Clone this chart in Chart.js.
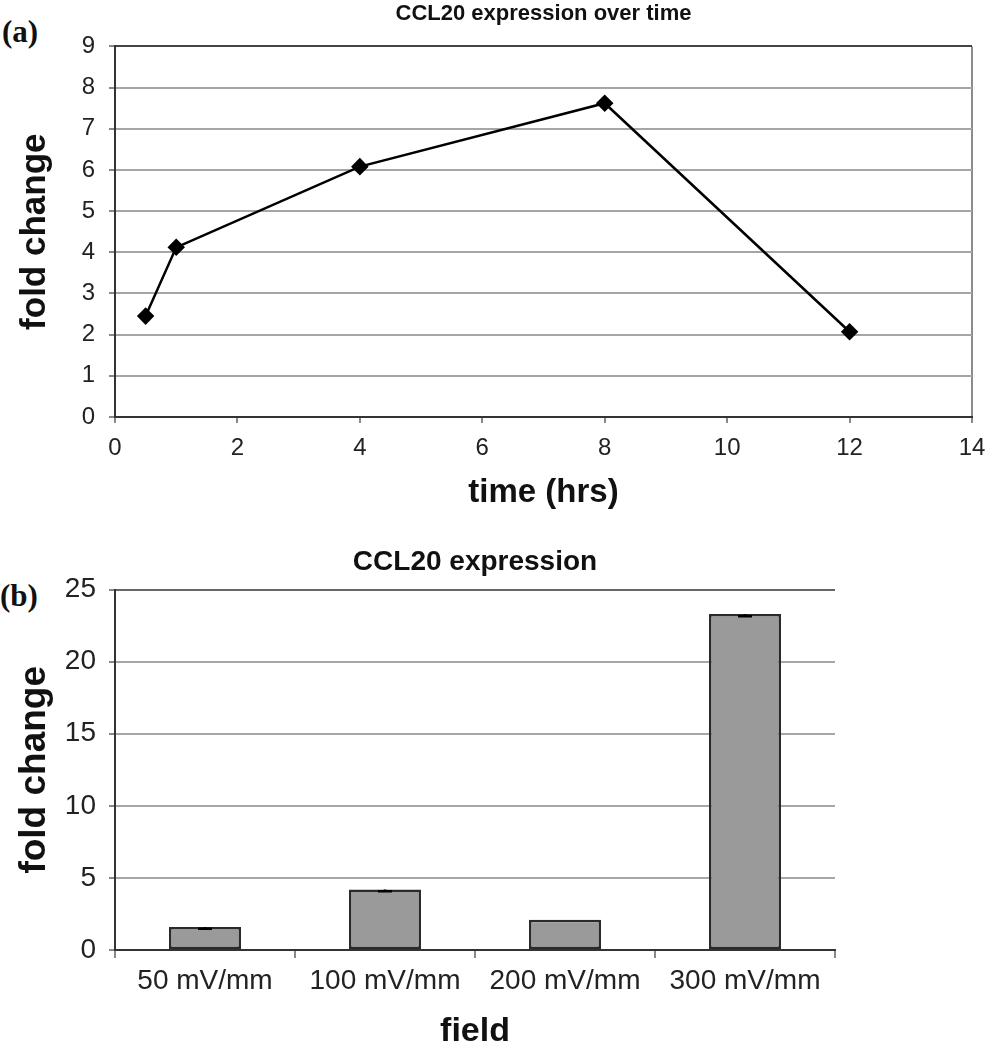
<!DOCTYPE html>
<html>
<head>
<meta charset="utf-8">
<script src="https://cdn.jsdelivr.net/npm/chart.js@4"></script>
<style>
  body { margin: 0; background: #fff; }
  .panel { position: absolute; left: 0; width: 987px; height: 525px; }
  .tag { position: absolute; font-family: "Liberation Serif", serif; font-weight: bold; font-size: 31px; color: #111; }
</style>
</head>
<body>
<div class="tag" style="left:2px; top:14px;">(a)</div>
<div class="tag" style="left:0px; top:578px;">(b)</div>
<div class="panel" style="top:0px;"><canvas id="lineChart"></canvas></div>
<div class="panel" style="top:525px;"><canvas id="barChart"></canvas></div>
<script>
// panel (a) - fold change over time
const times = [0.5, 1, 4, 8, 12];
const foldTime = [2.45, 4.12, 6.08, 7.62, 2.07];

// panel (b) - fold change per field strength
const fields = ['50 mV/mm', '100 mV/mm', '200 mV/mm', '300 mV/mm'];
const foldField = [1.6, 4.2, 2.1, 23.3];
const foldErr = [0.12, 0.12, 0, 0.15];

const sans = '"Liberation Sans", Arial, sans-serif';
Chart.defaults.font.family = sans;
Chart.defaults.color = '#222';
Chart.defaults.animation = false;
Chart.defaults.responsive = true;
Chart.defaults.maintainAspectRatio = false;

const points = times.map(function(t, i) { return {x: t, y: foldTime[i]}; });

new Chart(document.getElementById('lineChart'), {
  type: 'line',
  data: {
    datasets: [{
      data: points,
      borderColor: '#000',
      borderWidth: 2.5,
      pointStyle: 'rectRot',
      pointRadius: 7,
      pointBackgroundColor: '#000',
      pointBorderColor: '#000',
      tension: 0
    }]
  },
  options: {
    layout: { padding: { left: 0, right: 15, top: 0, bottom: 0 } },
    plugins: {
      legend: { display: false },
      tooltip: { enabled: false },
      title: {
        display: true,
        fullSize: false,
        text: 'CCL20 expression over time',
        color: '#111',
        font: { size: 22, weight: 'bold' },
        padding: { top: 1, bottom: 19 }
      }
    },
    scales: {
      x: {
        type: 'linear',
        min: 0, max: 14,
        afterFit: function(s) { s.height = 108; s.paddingRight = 0; },
        ticks: { stepSize: 2, font: { size: 24 }, padding: 11 },
        grid: {
          color: function(c) { return c.tick && c.tick.value === 14 ? '#8c8c8c' : 'rgba(0,0,0,0)'; },
          lineWidth: 2,
          tickColor: '#888',
          tickLength: 6
        },
        border: { color: '#333', width: 2 },
        title: { display: true, text: 'time (hrs)', color: '#111', font: { size: 33, weight: 'bold' }, padding: { top: 0, bottom: 12 } }
      },
      y: {
        min: 0, max: 9,
        afterFit: function(s) { s.width = 115; },
        ticks: { stepSize: 1, font: { size: 24 }, padding: 14 },
        grid: {
          color: function(c) { return c.tick && c.tick.value === 9 ? '#444' : '#a6a6a6'; },
          lineWidth: 2,
          tickColor: '#888',
          tickLength: 6
        },
        border: { color: '#333', width: 2 },
        title: { display: true, text: 'fold change', color: '#111', font: { size: 35, weight: 'bold' }, padding: { top: 14, bottom: 0 } }
      }
    }
  }
});

// small error caps on the bars
const errorBars = {
  id: 'errorBars',
  afterDatasetsDraw: function(chart) {
    const meta = chart.getDatasetMeta(0);
    const y = chart.scales.y;
    const ctx = chart.ctx;
    ctx.save();
    ctx.strokeStyle = '#000';
    ctx.lineWidth = 2.5;
    meta.data.forEach(function(bar, i) {
      const e = foldErr[i];
      if (!e) return;
      const top = y.getPixelForValue(foldField[i]);
      const low = y.getPixelForValue(foldField[i] - e);
      ctx.beginPath();
      ctx.moveTo(bar.x, top);
      ctx.lineTo(bar.x, low);
      ctx.moveTo(bar.x - 7, low);
      ctx.lineTo(bar.x + 7, low);
      ctx.stroke();
    });
    ctx.restore();
  }
};

new Chart(document.getElementById('barChart'), {
  type: 'bar',
  data: {
    labels: fields,
    datasets: [{
      data: foldField,
      backgroundColor: '#9a9a9a',
      borderColor: '#2a2a2a',
      borderWidth: 2.5,
      borderSkipped: false,
      categoryPercentage: 1,
      barPercentage: 0.4
    }]
  },
  options: {
    layout: { padding: { left: 0, right: 152, top: 0, bottom: 0 } },
    plugins: {
      legend: { display: false },
      tooltip: { enabled: false },
      title: {
        display: true,
        fullSize: false,
        text: 'CCL20 expression',
        color: '#111',
        font: { size: 28, weight: 'bold' },
        padding: { top: 20, bottom: 11 }
      }
    },
    scales: {
      x: {
        afterFit: function(s) { s.height = 100; },
        ticks: { font: { size: 28 }, padding: 6 },
        grid: {
          offset: true,
          color: function(c) { return c.index === fields.length ? '#8c8c8c' : 'rgba(0,0,0,0)'; },
          lineWidth: 2,
          tickColor: '#888',
          tickLength: 8
        },
        border: { color: '#333', width: 2 },
        title: { display: true, text: 'field', color: '#111', font: { size: 34, weight: 'bold', lineHeight: 1 }, padding: { top: 0, bottom: 1 } }
      },
      y: {
        min: 0, max: 25,
        afterFit: function(s) { s.width = 115; },
        ticks: { stepSize: 5, font: { size: 28 }, padding: 13 },
        grid: {
          color: function(c) { return c.tick && c.tick.value === 25 ? '#666' : '#a6a6a6'; },
          lineWidth: 2,
          tickColor: '#888',
          tickLength: 6
        },
        border: { color: '#333', width: 2 },
        title: { display: true, text: 'fold change', color: '#111', font: { size: 37, weight: 'bold' }, padding: { top: 13, bottom: 0 } }
      }
    }
  },
  plugins: [errorBars]
});
</script>
</body>
</html>
